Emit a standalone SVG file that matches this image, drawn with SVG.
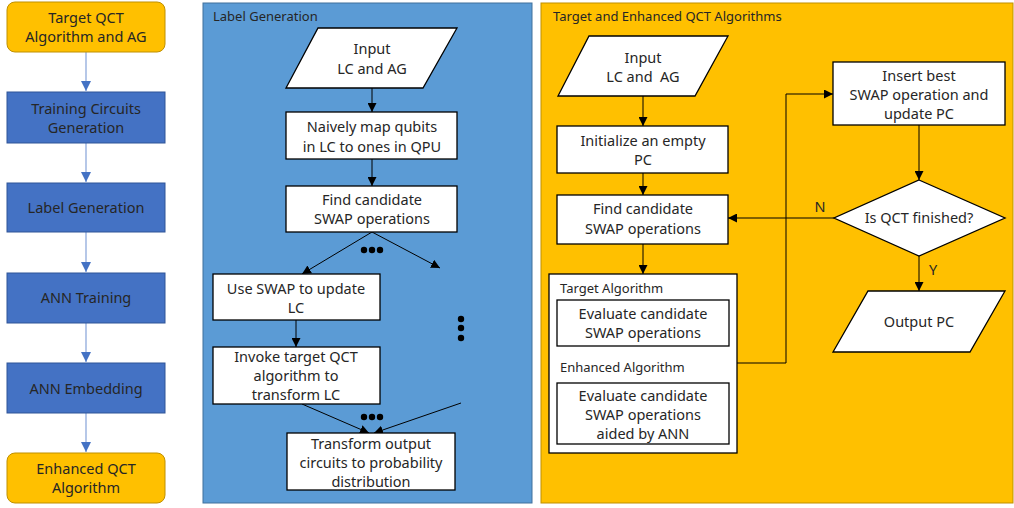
<svg xmlns="http://www.w3.org/2000/svg" width="1014" height="508" viewBox="0 0 1014 508">
<defs>
<style>
text{font-family:"Noto Sans","Liberation Sans",sans-serif;font-size:14.5px;fill:#262626;text-anchor:middle}
.t{font-size:13px;text-anchor:start}
.y{fill:#FFC000;stroke:#BF9000;stroke-width:1}
.b{fill:#4472C4;stroke:#2F5597;stroke-width:1}
.w{fill:#fff;stroke:#000;stroke-width:1.3}
.c{fill:none;stroke:#000;stroke-width:1}
.lc{fill:none;stroke:#8FAADC;stroke-width:1.3}
</style>
<marker id="ah" viewBox="0 0 10 10" refX="10" refY="5" markerWidth="9" markerHeight="9" markerUnits="userSpaceOnUse" orient="auto"><path d="M0,0L10,5L0,10z" fill="#000"/></marker>
<marker id="ab" viewBox="0 0 10 10" refX="10" refY="5" markerWidth="10" markerHeight="10" markerUnits="userSpaceOnUse" orient="auto"><path d="M0,0L10,5L0,10z" fill="#4472C4"/></marker>
</defs>
<rect x="0" y="0" width="1014" height="508" fill="#fff"/>
<g id="panel-label"><rect x="203" y="3" width="329" height="500" fill="#5B9BD5" stroke="#41719C"/><text class="t" x="213" y="21">Label Generation</text></g>
<g id="panel-qct"><rect x="541" y="3" width="472" height="500" fill="#FFC000" stroke="#BF9000"/><text class="t" x="553" y="21">Target and Enhanced QCT Algorithms</text></g>
<g id="connectors">
<path class="lc" d="M86,52V91" marker-end="url(#ab)"/>
<path class="lc" d="M86,143V182" marker-end="url(#ab)"/>
<path class="lc" d="M86,232V272" marker-end="url(#ab)"/>
<path class="lc" d="M86,323V362" marker-end="url(#ab)"/>
<path class="lc" d="M86,413V452" marker-end="url(#ab)"/>
<path class="c" d="M372,88V112" marker-end="url(#ah)"/>
<path class="c" d="M372,159V186" marker-end="url(#ah)"/>
<path class="c" d="M372,232L302,274" marker-end="url(#ah)"/>
<path class="c" d="M372,232L440,268" marker-end="url(#ah)"/>
<path class="c" d="M296,320V347" marker-end="url(#ah)"/>
<path class="c" d="M302,404L369,433" marker-end="url(#ah)"/>
<path class="c" d="M461,403L374,433" marker-end="url(#ah)"/>
<path class="c" d="M643,96V126" marker-end="url(#ah)"/>
<path class="c" d="M643,173V195" marker-end="url(#ah)"/>
<path class="c" d="M643,244V274" marker-end="url(#ah)"/>
<path class="c" d="M737,363H786V94H833" marker-end="url(#ah)"/>
<path class="c" d="M919,125V180" marker-end="url(#ah)"/>
<path class="c" d="M834,218H728" marker-end="url(#ah)"/>
<path class="c" d="M919,256V291" marker-end="url(#ah)"/>
<text x="820" y="212">N</text>
<text x="933" y="275">Y</text>
<g fill="#000"><circle cx="364" cy="250" r="3.2"/><circle cx="372" cy="250" r="3.2"/><circle cx="380" cy="250" r="3.2"/>
<circle cx="364" cy="417" r="3.2"/><circle cx="372" cy="417" r="3.2"/><circle cx="380" cy="417" r="3.2"/>
<circle cx="461" cy="319" r="3.2"/><circle cx="461" cy="328" r="3.2"/><circle cx="461" cy="338" r="3.2"/></g>
</g>
<g id="n-target"><rect class="y" x="7" y="2" width="158" height="50" rx="8"/><text x="86" y="23">Target QCT</text><text x="86" y="42">Algorithm and AG</text></g>
<g id="n-training"><rect class="b" x="7" y="92" width="158" height="51"/><text x="86" y="114">Training Circuits</text><text x="86" y="133">Generation</text></g>
<g id="n-labelgen"><rect class="b" x="7" y="183" width="158" height="49"/><text x="86" y="213">Label Generation</text></g>
<g id="n-anntrain"><rect class="b" x="7" y="273" width="158" height="50"/><text x="86" y="303">ANN Training</text></g>
<g id="n-annembed"><rect class="b" x="7" y="363" width="158" height="50"/><text x="86" y="394">ANN Embedding</text></g>
<g id="n-enhanced"><rect class="y" x="7" y="453" width="158" height="50" rx="8"/><text x="86" y="474">Enhanced QCT</text><text x="86" y="493">Algorithm</text></g>
<g id="n-input1"><path class="w" d="M318,28H457L423,88H286z"/><text x="372" y="54">Input</text><text x="372" y="74">LC and AG</text></g>
<g id="n-naive"><rect class="w" x="286" y="112" width="171" height="47"/><text x="372" y="132">Naively map qubits</text><text x="372" y="152">in LC to ones in QPU</text></g>
<g id="n-find1"><rect class="w" x="286" y="186" width="171" height="46"/><text x="372" y="205">Find candidate</text><text x="372" y="224">SWAP operations</text></g>
<g id="n-useswap"><rect class="w" x="213" y="274" width="167" height="46"/><text x="296" y="294">Use SWAP to update</text><text x="296" y="313">LC</text></g>
<g id="n-invoke"><rect class="w" x="213" y="347" width="167" height="57"/><text x="296" y="362">Invoke target QCT</text><text x="296" y="381">algorithm to</text><text x="296" y="399.5">transform LC</text></g>
<g id="n-transform"><rect class="w" x="287" y="433" width="168" height="57"/><text x="371" y="449">Transform output</text><text x="371" y="468">circuits to probability</text><text x="371" y="487">distribution</text></g>
<g id="n-input2"><path class="w" d="M589,36H728L695,96H558z"/><text x="643" y="63">Input</text><text x="643" y="82" xml:space="preserve">LC and  AG</text></g>
<g id="n-init"><rect class="w" x="557" y="126" width="171" height="47"/><text x="643" y="146">Initialize an empty</text><text x="643" y="165">PC</text></g>
<g id="n-find2"><rect class="w" x="557" y="195" width="171" height="49"/><text x="643" y="214">Find candidate</text><text x="643" y="234">SWAP operations</text></g>
<g id="n-algos"><rect class="w" x="549" y="274" width="188" height="179"/><text class="t" x="560" y="293">Target Algorithm</text><text class="t" x="560" y="372">Enhanced Algorithm</text></g>
<g id="n-eval1"><rect class="w" x="557" y="300" width="172" height="46"/><text x="643" y="319">Evaluate candidate</text><text x="643" y="338">SWAP operations</text></g>
<g id="n-eval2"><rect class="w" x="557" y="383" width="172" height="61"/><text x="643" y="401">Evaluate candidate</text><text x="643" y="420">SWAP operations</text><text x="643" y="439">aided by ANN</text></g>
<g id="n-insert"><rect class="w" x="833" y="62" width="172" height="63"/><text x="919" y="81">Insert best</text><text x="919" y="100">SWAP operation and</text><text x="919" y="119">update PC</text></g>
<g id="n-decision"><path class="w" d="M919,180L1005,218L919,256L834,218z"/><text x="919" y="223">Is QCT finished?</text></g>
<g id="n-output"><path class="w" d="M868,291H1005L970,352H833z"/><text x="919" y="327">Output PC</text></g>
</svg>
